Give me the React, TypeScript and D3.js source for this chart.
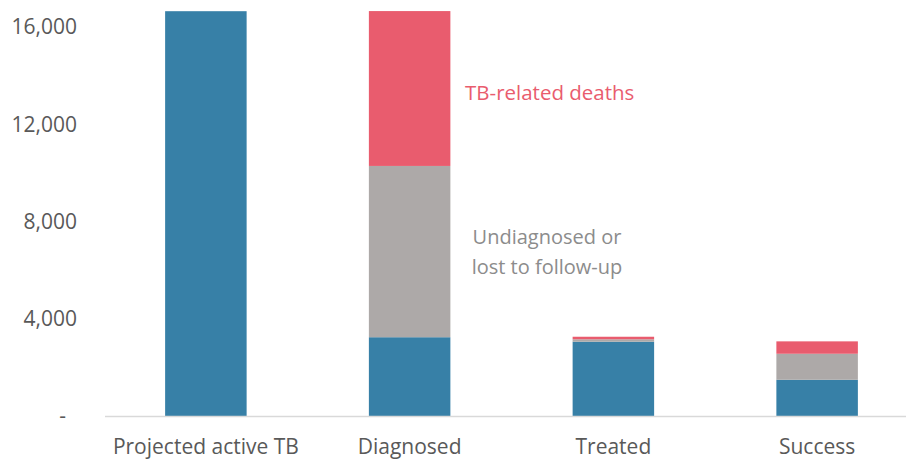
import { useEffect, useRef } from "react";
import * as d3 from "d3";

// TB care cascade — stacked columns
const categories = ["Projected active TB", "Diagnosed", "Treated", "Success"];
const reached = [16650, 3240, 3055, 1490];
const lostToFollowUp = [0, 7045, 100, 1070];
const deaths = [0, 6370, 105, 510];
const yTicks = [0, 4000, 8000, 12000, 16000];

const keys = ["reached", "lost", "deaths"];
const COLORS: Record<string, string> = {
  reached: "#3780A7",
  lost: "#ADA9A8",
  deaths: "#E95C6E",
};

const W = 906;
const H = 459;
const FONT = "'Open Sans', sans-serif";

export default function App() {
  const svgRef = useRef<SVGSVGElement | null>(null);

  useEffect(() => {
    if (!svgRef.current) return;
    const svg = d3.select(svgRef.current);
    svg.selectAll("*").remove();

    const rows = categories.map((c, i) => ({
      category: c,
      reached: reached[i],
      lost: lostToFollowUp[i],
      deaths: deaths[i],
    }));

    const x = d3.scaleBand<string>()
      .domain(categories)
      .range([104, 919])
      .paddingInner(0.6)
      .paddingOuter(0.3);
    const y = d3.scaleLinear().domain([0, 16000]).range([416, 27]);

    const stacked = d3.stack<any>().keys(keys)(rows);

    svg.append("g")
      .selectAll("g")
      .data(stacked)
      .join("g")
      .attr("fill", (s) => COLORS[s.key])
      .selectAll("rect")
      .data((s) => s)
      .join("rect")
      .attr("x", (d) => x(d.data.category)!)
      .attr("width", x.bandwidth())
      .attr("y", (d) => y(d[1]))
      .attr("height", (d) => y(d[0]) - y(d[1]));

    // baseline
    svg.append("line")
      .attr("x1", 105)
      .attr("x2", W)
      .attr("y1", y(0) + 0.5)
      .attr("y2", y(0) + 0.5)
      .attr("stroke", "#D9D9D9")
      .attr("stroke-width", 1.5);

    // y tick labels (zero shown as an accounting dash, set in from the right)
    svg.append("g")
      .selectAll("text")
      .data(yTicks)
      .join("text")
      .attr("x", (d) => (d === 0 ? 66 : 77))
      .attr("y", (d) => y(d))
      .attr("dy", "0.35em")
      .attr("text-anchor", "end")
      .attr("fill", "#595959")
      .attr("font-family", FONT)
      .attr("font-size", 21)
      .text((d) => (d === 0 ? "-" : d3.format(",")(d)));

    // category labels
    svg.append("g")
      .selectAll("text")
      .data(categories)
      .join("text")
      .attr("x", (d) => x(d)! + x.bandwidth() / 2)
      .attr("y", 454)
      .attr("text-anchor", "middle")
      .attr("fill", "#595959")
      .attr("font-family", FONT)
      .attr("font-size", 21)
      .text((d) => d);

    // annotations
    svg.append("text")
      .attr("x", 465)
      .attr("y", 100)
      .attr("fill", "#E95C6E")
      .attr("font-family", FONT)
      .attr("font-size", 20.5)
      .text("TB-related deaths");

    const note = svg.append("text")
      .attr("text-anchor", "middle")
      .attr("fill", "#8C8C8C")
      .attr("font-family", FONT)
      .attr("font-size", 20);
    note.append("tspan").attr("x", 547).attr("y", 244).text("Undiagnosed or");
    note.append("tspan").attr("x", 547).attr("y", 274).text("lost to follow-up");
  }, []);

  return (
    <svg
      ref={svgRef}
      width={W}
      height={H}
      style={{ position: "absolute", left: 0, top: 0, background: "#fff" }}
    />
  );
}
